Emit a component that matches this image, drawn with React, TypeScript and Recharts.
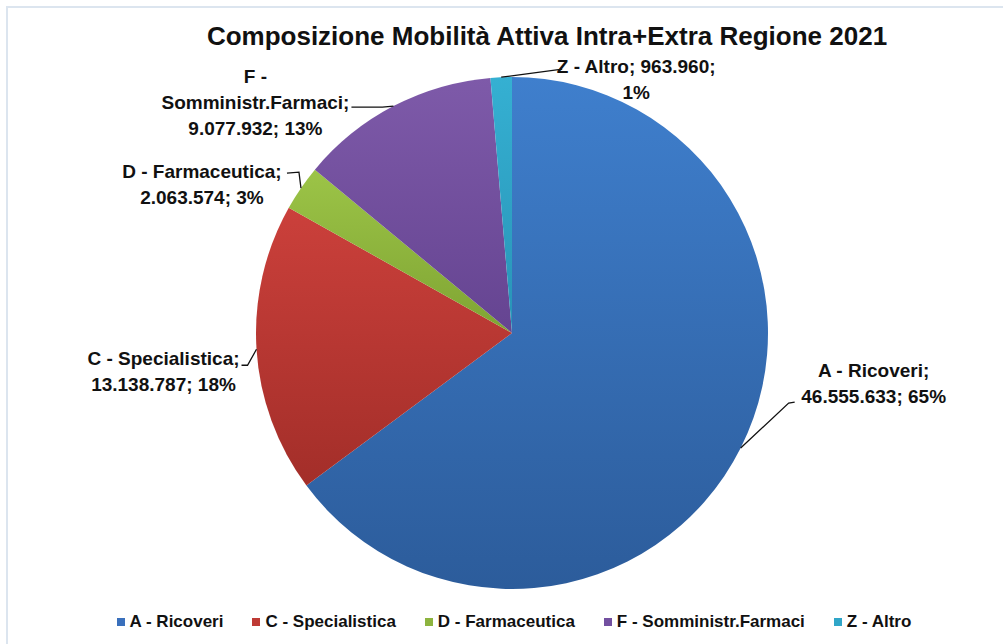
import { PieChart, Pie, Cell, Legend } from "recharts"

const categories = ["A - Ricoveri", "C - Specialistica", "D - Farmaceutica", "F - Somministr.Farmaci", "Z - Altro"]
const values = [46555633, 13138787, 2063574, 9077932, 963960]

const data = categories.map((name, i) => ({ name, value: values[i] }))

// top / bottom of each slice's gradient
const gradients = [
  ["#3F7FCD", "#2C5C9B"],
  ["#CB403B", "#A32E29"],
  ["#9CC447", "#7FA433"],
  ["#7E5AA9", "#654491"],
  ["#35B0D2", "#2893B6"],
]
const legendColors = ["#3A70BC", "#BE3A35", "#8DB43F", "#7350A0", "#30A6C8"]

const FONT = "'Liberation Sans', Arial, sans-serif"
const RAD = Math.PI / 180
const LINE_H = 26

const fmt = (v: number) => String(v).replace(/\B(?=(\d{3})+(?!\d))/g, ".")

type LabelLayout = {
  elbow: [number, number]
  end: [number, number]
  text: [number, number]
  lines: (n: string, v: string, p: string) => string[]
}

// offsets from the point where the slice's mid-angle meets the rim
const labelLayout: LabelLayout[] = [
  { elbow: [48, -45], end: [54, -46], text: [133, -71], lines: (n, v, p) => [`${n};`, `${v}; ${p}`] },
  { elbow: [-9, 16], end: [-15, 16], text: [-93, 16], lines: (n, v, p) => [`${n};`, `${v}; ${p}`] },
  { elbow: [-2, -16], end: [-14, -15], text: [-99, -10], lines: (n, v, p) => [`${n};`, `${v}; ${p}`] },
  {
    elbow: [-11, 1],
    end: [-42, 1],
    text: [-138, -23],
    lines: (n, v, p) => {
      const [a, b] = n.split(" - ")
      return [`${a} -`, `${b};`, `${v}; ${p}`]
    },
  },
  { elbow: [61, -8], end: [61, -8], text: [135, -4], lines: (n, v, p) => [`${n}; ${v};`, p] },
]

const renderLabel = (props: any) => {
  const { cx, cy, midAngle, outerRadius, index, percent, value } = props
  const name = props.payload?.name ?? props.name
  const ex = cx + outerRadius * Math.cos(-midAngle * RAD)
  const ey = cy + outerRadius * Math.sin(-midAngle * RAD)
  const l = labelLayout[index]
  const lines = l.lines(name, fmt(value), `${Math.round(percent * 100)}%`)
  const tx = ex + l.text[0]
  return (
    <g key={`lbl-${index}`}>
      <polyline
        points={`${ex},${ey} ${ex + l.elbow[0]},${ey + l.elbow[1]} ${ex + l.end[0]},${ey + l.end[1]}`}
        fill="none"
        stroke="#111"
        strokeWidth={1.3}
      />
      <text x={tx} y={ey + l.text[1]} textAnchor="middle" fontFamily={FONT} fontWeight="bold" fontSize={19} fill="#111">
        {lines.map((s, i) => (
          <tspan key={i} x={tx} dy={i === 0 ? 0 : LINE_H}>
            {s}
          </tspan>
        ))}
      </text>
    </g>
  )
}

const renderLegend = () => (
  <div
    style={{
      display: "flex",
      justifyContent: "center",
      gap: 29,
      fontFamily: FONT,
      fontWeight: "bold",
      fontSize: 17,
      color: "#111",
      paddingLeft: 25,
    }}
  >
    {categories.map((c, i) => (
      <div key={c} style={{ display: "flex", alignItems: "center" }}>
        <span style={{ width: 8, height: 8, background: legendColors[i], marginRight: 5 }} />
        <span>{c}</span>
      </div>
    ))}
  </div>
)

export default function App() {
  return (
    <div style={{ position: "relative", width: 1003, height: 644, overflow: "hidden", background: "#fff" }}>
      <style>{`body{margin:0}`}</style>
      <div
        style={{
          position: "absolute",
          left: 6,
          top: 6,
          width: 1100,
          height: 800,
          border: "2px solid #DCE5EF",
        }}
      />
      <div
        style={{
          position: "absolute",
          left: 47,
          top: 21,
          width: 1000,
          textAlign: "center",
          fontFamily: FONT,
          fontWeight: "bold",
          fontSize: 26,
          lineHeight: "30px",
          color: "#111",
        }}
      >
        Composizione Mobilità Attiva Intra+Extra Regione 2021
      </div>
      <div style={{ position: "absolute", left: 0, top: 0 }}>
        <PieChart width={1003} height={644} margin={{ top: 0, right: 0, bottom: 0, left: 0 }}>
          <defs>
            {gradients.map(([a, b], i) => (
              <linearGradient key={i} id={`g${i}`} x1="0" y1="0" x2="0" y2="1">
                <stop offset="0%" stopColor={a} />
                <stop offset="100%" stopColor={b} />
              </linearGradient>
            ))}
          </defs>
          <Pie
            data={data}
            dataKey="value"
            nameKey="name"
            cx={512}
            cy={333}
            outerRadius={256}
            startAngle={90}
            endAngle={-270}
            stroke="none"
            label={renderLabel}
            labelLine={false}
            isAnimationActive={false}
          >
            {data.map((d, i) => (
              <Cell key={d.name} fill={`url(#g${i})`} />
            ))}
          </Pie>
          <Legend
            content={renderLegend}
            wrapperStyle={{ left: 0, top: 612, bottom: "auto", width: 1003 }}
          />
        </PieChart>
      </div>
    </div>
  )
}
